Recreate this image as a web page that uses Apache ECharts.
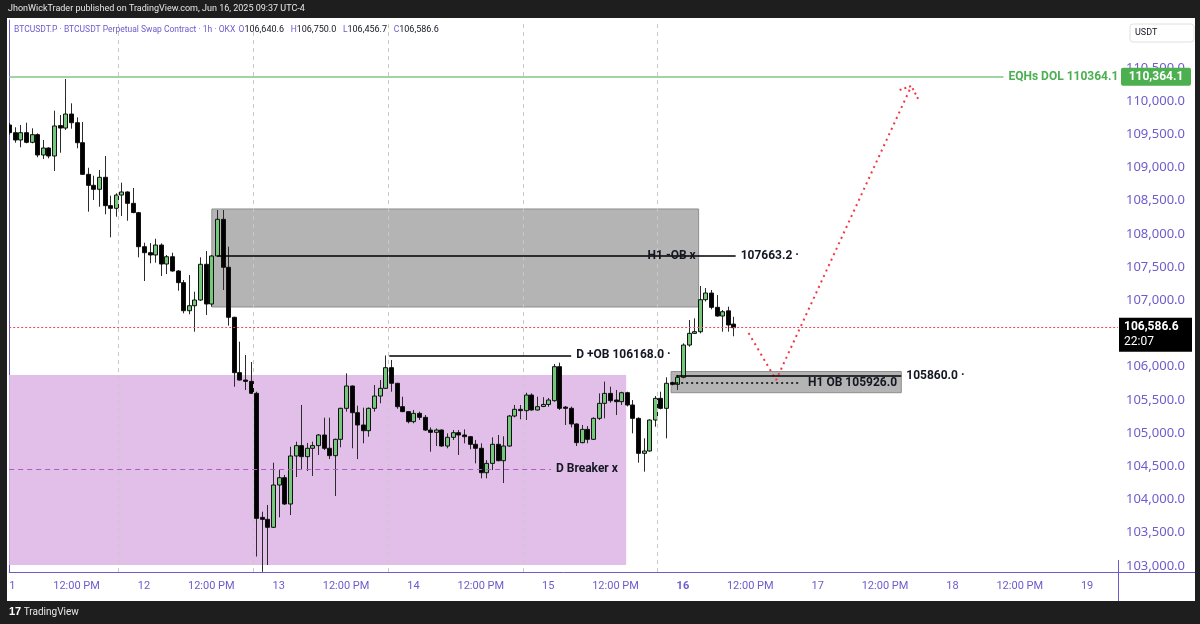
<!DOCTYPE html>
<html lang="en">
<head>
<meta charset="UTF-8">
<title>BTCUSDT.P 1h</title>
<script src="https://cdn.jsdelivr.net/npm/echarts@6.0.0/dist/echarts.min.js"></script>
<style>
    html, body { margin: 0; padding: 0; background: #1e1e1e; }
    #main { width: 1200px; height: 624px; }
</style>
</head>
<body>
<div id="main"></div>
<script>
// 1h candles, index = hours since Jun 11 00:00 (UTC-4)
var opens = [109639,109523,109413,109523,109378,109493,109187,109292,109172,109630,
    109593,109804,109673,109372,108896,108730,108670,108851,108424,108384,
    108584,108630,108459,108318,107806,107716,107681,107831,107545,107655,
    107440,107264,106842,106917,107003,107541,106943,107666,108218,107496,
    106743,105909,105798,105778,105598,103730,103700,103580,104217,104327,
    103931,104654,104810,104644,104770,104810,104970,104770,104659,104905,
    105372,105708,105306,105121,105035,105372,105557,105673,105984,105749,
    105397,105322,105171,105296,105236,105045,105010,105045,104804,104935,
    105005,104970,104945,104830,104770,104402,104543,104830,104583,104804,
    105256,105357,105337,105572,105347,105400,105430,105487,105999,105390,
    105372,105136,104855,105055,104905,105221,105447,105597,105497,105472,
    105607,105422,105221,104694,104729,105196,105522,105372,105759,105733,
    105839,106325,106501,106526,107008,107108,106893,106762,106840,106640.6];
var highs = [109670,109604,109639,109673,109589,109514,109413,109303,109854,109789,
    110331,109965,109754,109684,108995,108875,108961,109172,108574,108610,
    108770,108640,108690,108330,107866,107861,107926,107856,107681,107716,
    107455,107304,107380,107128,107646,107741,107680,108358,108358,107806,
    106750,106375,106175,106070,105622,103815,103916,104553,104443,104368,
    104794,104870,105422,104850,104870,104985,105231,105231,104915,105380,
    105899,105715,105412,105382,105385,105723,105798,106168,106100,105755,
    105547,105330,105347,105322,105271,105085,105070,105055,104995,105045,
    105045,105055,104955,104895,104845,104593,104935,104970,104950,105271,
    105422,105422,105607,105597,105547,105540,105527,106039,106059,105407,
    105397,105146,105121,105105,105236,105597,105774,105698,105648,105622,
    105622,105497,105236,104920,105205,105557,105622,105839,105774,105874,
    106350,106702,106727,107214,107183,107154,107078,106853,106903,106750.0];
var lows = [109490,109372,109303,109363,109363,109152,109126,109137,108946,109221,
    109563,109583,109288,108886,108333,108509,108408,108294,107947,108258,
    108268,108197,108310,107646,107289,107556,107565,107365,107394,107430,
    107143,106803,106788,106526,106990,106778,106903,107656,107154,106617,
    105697,105790,105648,105590,103140,102910,103012,103570,103730,103916,
    103765,104337,104443,104428,104353,104669,104744,104608,104051,104785,
    105322,104770,104608,104845,104945,105322,105447,105665,105622,105365,
    105315,105146,105146,105196,105030,104718,104804,104794,104770,104895,
    104669,104845,104755,104543,104317,104317,104443,104575,104247,104794,
    105236,105206,105196,105337,105337,105390,105395,105472,105347,105121,
    105085,104804,104845,104845,104895,105196,105221,105457,105271,105422,
    105400,104995,104553,104418,104719,105095,105357,104920,105718,105648,
    105824,106300,106491,106501,106980,106863,106752,106526,106526,106456.7];
var closes = [109523,109413,109523,109378,109493,109187,109292,109172,109624,109593,
    109804,109673,109372,108896,108730,108670,108851,108424,108384,108584,
    108630,108459,108320,107806,107716,107681,107831,107545,107655,107440,
    107264,106842,106917,107003,107541,106943,107666,108218,107496,106743,
    105909,105798,105778,105598,103715,103700,103580,104217,104327,103931,
    104654,104810,104644,104770,104810,104970,104770,104659,104905,105372,
    105708,105306,105121,105035,105372,105557,105673,105984,105749,105397,
    105322,105171,105296,105236,105045,105010,105045,104804,104935,105005,
    104970,104945,104830,104770,104402,104543,104830,104583,104804,105256,
    105357,105337,105572,105347,105397,105430,105497,105999,105372,105372,
    105136,104855,105055,104905,105221,105447,105597,105487,105472,105607,
    105422,105221,104694,104729,105196,105522,105372,105749,105733,105839,
    106325,106501,106526,107008,107108,106893,106762,106827,106627,106586.6];

// axes
var xTickHours = [0,12,24,36,48,60,72,84,96,108,120,132,144,156,168,180,192];
var xTickLabels = ['11','12:00 PM','12','12:00 PM','13','12:00 PM','14','12:00 PM','15',
    '12:00 PM','16','12:00 PM','17','12:00 PM','18','12:00 PM','19'];
var yTicks = [103000,103500,104000,104500,105000,105500,106000,
    107000,107500,108000,108500,109000,109500,110000,110500];

// drawings (hour index, price)
var sessionBreaks = [19.5, 43.5, 67.5, 91.5, 115.5];
var eqhLevel = 110364.1;
var lastPrice = 106586.6;
var h1ObBox = [36.1, 106898, 122.8, 108374];
var h1ObLine = [37.1, 129.4, 107663.2];
var dBreakerBox = [0, 103012, 109.9, 105874];
var dBreakerLine = [0, 96.5, 104458];
var dObLine = [67.7, 100.1, 106168];
var h1ObSmallBox = [117.9, 105607, 158.9, 105926];
var h1ObSolid = [118.8, 158.9, 105860];
var h1ObDotted = [118.8, 140.6, 105760];
var pathMain = [[131.7, 106506], [136.6, 105798], [160.7, 110226]];
var pathArrow = [[158.6, 110166], [160.7, 110226], [162.0, 110015]];

var purple = '#6f5bcb';
var ink = '#131722';
var font = 'Roboto, "Noto Sans", sans-serif';
var axisFont = '"Noto Sans", Roboto, sans-serif';

var candleData = [];
for (var i = 0; i < opens.length; i++) {
    candleData.push([i, opens[i], closes[i], lows[i], highs[i]]);
}

function renderCandle(params, api) {
    var k = api.value(0);
    var o = api.coord([k, api.value(1)]);
    var c = api.coord([k, api.value(2)]);
    var lo = api.coord([k, api.value(3)]);
    var hi = api.coord([k, api.value(4)]);
    var cx = Math.round(o[0]) + 0.5;
    var top = Math.min(o[1], c[1]);
    var bot = Math.max(o[1], c[1]);
    var up = api.value(2) >= api.value(1);
    return {
        type: 'group',
        children: [
            {type: 'line', shape: {x1: cx, y1: hi[1], x2: cx, y2: lo[1]},
                style: {stroke: '#2b2b2b', lineWidth: 1}},
            {type: 'rect', shape: {x: cx - 2, y: top, width: 4, height: Math.max(bot - top, 1)},
                style: {fill: up ? '#74c77b' : '#000000', stroke: '#111111', lineWidth: 1}}
        ]
    };
}

function hLine(x0, x1, price, color, width, type, labelText, labelColor) {
    var item = [
        {coord: [x0, price], lineStyle: {color: color, width: width, type: type},
            label: {show: false}},
        {coord: [x1, price]}
    ];
    if (labelText) {
        item[0].label = {show: true, position: 'end', distance: 5, formatter: labelText,
            color: labelColor || ink, fontSize: 12, fontWeight: 'bold', fontFamily: font};
    }
    return item;
}

var myChart = echarts.init(document.getElementById('main'), null, {renderer: 'canvas'});

var option = {
    backgroundColor: '#ffffff',
    animation: false,
    grid: {left: 7, right: 82, top: 20, bottom: 52},
    xAxis: {
        type: 'value', min: 0, max: 197.5,
        axisLine: {show: true, lineStyle: {color: purple, width: 1}},
        axisTick: {show: false},
        splitLine: {show: false},
        axisLabel: {
            customValues: xTickHours,
            color: purple, fontSize: 11, fontFamily: font, margin: 9,
            formatter: function (v) {
                var t = xTickLabels[xTickHours.indexOf(v)];
                return t === '16' ? '{b|16}' : t;
            },
            rich: {b: {fontWeight: 'bold', color: purple, fontSize: 11, fontFamily: font}}
        }
    },
    yAxis: {
        type: 'value', position: 'right', min: 102907, max: 111220, scale: true,
        axisLine: {show: true, lineStyle: {color: purple, width: 1}},
        axisTick: {show: false},
        splitLine: {show: false},
        axisLabel: {
            customValues: yTicks,
            color: purple, fontSize: 13, fontFamily: axisFont, margin: 8,
            formatter: function (v) {
                return v.toLocaleString('en-US', {minimumFractionDigits: 1, maximumFractionDigits: 1});
            }
        }
    },
    series: [
        {
            // zones under the candles
            type: 'line', data: [], z: 1, silent: true,
            markArea: {
                silent: true,
                data: [
                    [{coord: [dBreakerBox[0], dBreakerBox[1]], itemStyle: {color: '#e1bfe8'}},
                        {coord: [dBreakerBox[2], dBreakerBox[3]]}],
                    [{coord: [h1ObBox[0], h1ObBox[1]], itemStyle: {color: '#b4b4b4', borderColor: '#8e8e8e', borderWidth: 1}},
                        {coord: [h1ObBox[2], h1ObBox[3]]}],
                    [{coord: [h1ObSmallBox[0], h1ObSmallBox[1]], itemStyle: {color: '#b4b4b4', borderColor: '#8e8e8e', borderWidth: 1}},
                        {coord: [h1ObSmallBox[2], h1ObSmallBox[3]]}]
                ]
            },
            markLine: {
                silent: true, symbol: ['none', 'none'], animation: false,
                label: {show: false},
                data: sessionBreaks.map(function (v) {
                    return {xAxis: v, lineStyle: {color: '#c8c8c8', width: 1, type: [4, 4]}};
                })
            }
        },
        {
            type: 'custom', name: 'BTCUSDT', z: 2, clip: true,
            renderItem: renderCandle,
            encode: {x: 0, y: [1, 2, 3, 4]},
            data: candleData
        },
        {
            // lines and texts over the candles
            type: 'line', data: [], z: 3, silent: true,
            markLine: {
                silent: true, symbol: ['none', 'none'], animation: false,
                data: [
                    hLine(0, 197.5, lastPrice, '#f0465a', 1, [2, 2]),
                    hLine(0, 177.1, eqhLevel, '#81c784', 1.5, 'solid', 'EQHs DOL 110364.1', '#4caf50'),
                    hLine(h1ObLine[0], h1ObLine[1], h1ObLine[2], '#000000', 1.5, 'solid', '107663.2 ·'),
                    hLine(dObLine[0], dObLine[1], dObLine[2], '#000000', 1.5, 'solid', 'D +OB 106168.0 ·'),
                    hLine(dBreakerLine[0], dBreakerLine[1], dBreakerLine[2], '#b05bc4', 1, [5, 4], 'D Breaker x'),
                    hLine(h1ObSolid[0], h1ObSolid[1], h1ObSolid[2], '#000000', 1.5, 'solid', '105860.0 ·'),
                    hLine(h1ObDotted[0], h1ObDotted[1], h1ObDotted[2], '#000000', 1.5, [2, 3])
                ]
            },
            markPoint: {
                silent: true, symbol: 'circle', symbolSize: 0, animation: false,
                data: [
                    {coord: [118, h1ObLine[2]], label: {show: true, position: 'inside', formatter: 'H1 -OB x',
                        color: ink, fontSize: 12, fontWeight: 'bold', fontFamily: font}},
                    {coord: [158.5, h1ObDotted[2]], label: {show: true, position: 'left', distance: 2,
                        formatter: 'H1 OB 105926.0', color: ink, fontSize: 12, fontWeight: 'bold', fontFamily: font}}
                ]
            }
        },
        {
            type: 'line', z: 4, silent: true, symbol: 'none', data: pathMain,
            lineStyle: {color: '#f23645', width: 2, type: [2, 4]}
        },
        {
            type: 'line', z: 4, silent: true, symbol: 'none', data: pathArrow,
            lineStyle: {color: '#f23645', width: 2, type: [2, 3]}
        }
    ]
};

myChart.setOption(option);

// price tags on the axis and the frame around the chart
var eqhPx = myChart.convertToPixel({yAxisIndex: 0}, eqhLevel);
var lastPx = myChart.convertToPixel({yAxisIndex: 0}, lastPrice);

myChart.setOption({
    graphic: [
        {type: 'rect', shape: {x: 0, y: 0, width: 1200, height: 18}, style: {fill: '#1e1e1e'}, z: 100},
        {type: 'rect', shape: {x: 0, y: 601, width: 1200, height: 23}, style: {fill: '#1e1e1e'}, z: 100},
        {type: 'rect', shape: {x: 0, y: 0, width: 7, height: 624}, style: {fill: '#1e1e1e'}, z: 100},
        {type: 'rect', shape: {x: 1195, y: 0, width: 5, height: 624}, style: {fill: '#1e1e1e'}, z: 100},
        {type: 'text', x: 8, y: 9, z: 101,
            style: {text: 'JhonWickTrader published on TradingView.com, Jun 16, 2025 09:37 UTC-4',
                fill: '#e6e6e6', font: '9px ' + font, verticalAlign: 'middle'}},
        {type: 'text', x: 9, y: 612, z: 101,
            style: {text: '{l|17} TradingView', fill: '#e6e6e6', font: '10px ' + font, verticalAlign: 'middle',
                rich: {l: {fontWeight: 'bold', fontSize: 11, fill: '#ffffff'}}}},
        {type: 'text', x: 14, y: 30, z: 101,
            style: {
                text: '{p|BTCUSDT.P · BTCUSDT Perpetual Swap Contract · 1h · OKX} {p|O}{v|106,640.6}  {p|H}{v|106,750.0}  {p|L}{v|106,456.7}  {p|C}{v|106,586.6}',
                verticalAlign: 'middle',
                rich: {
                    p: {fill: purple, fontSize: 8.5, fontFamily: font},
                    v: {fill: ink, fontSize: 9, fontFamily: font}
                }
            }},
        {type: 'line', shape: {x1: 1118, y1: 572.5, x2: 1195, y2: 572.5}, style: {stroke: purple, lineWidth: 1}, z: 99},
        {type: 'line', shape: {x1: 1118.5, y1: 560, x2: 1118.5, y2: 601}, style: {stroke: purple, lineWidth: 1}, z: 99},
        {type: 'rect', shape: {x: 1130, y: 24, width: 64, height: 18, r: 3},
            style: {fill: '#ffffff', stroke: '#e0e0e0', lineWidth: 1}, z: 101},
        {type: 'text', x: 1135, y: 33, z: 102,
            style: {text: 'USDT', fill: ink, font: '9px ' + font, verticalAlign: 'middle'}},
        {type: 'rect', shape: {x: 1121, y: eqhPx - 9, width: 70, height: 18, r: 2},
            style: {fill: '#4caf50'}, z: 101},
        {type: 'text', x: 1156, y: eqhPx, z: 102,
            style: {text: '110,364.1', fill: '#ffffff', font: 'bold 12px ' + font, align: 'center', verticalAlign: 'middle'}},
        {type: 'rect', shape: {x: 1119, y: lastPx - 10, width: 73, height: 34},
            style: {fill: '#000000'}, z: 101},
        {type: 'text', x: 1124, y: lastPx - 1, z: 102,
            style: {text: '106,586.6', fill: '#ffffff', font: 'bold 12px ' + font, verticalAlign: 'middle'}},
        {type: 'text', x: 1124, y: lastPx + 14, z: 102,
            style: {text: '22:07', fill: '#ffffff', font: '12px ' + font, verticalAlign: 'middle'}}
    ]
});
</script>
</body>
</html>
